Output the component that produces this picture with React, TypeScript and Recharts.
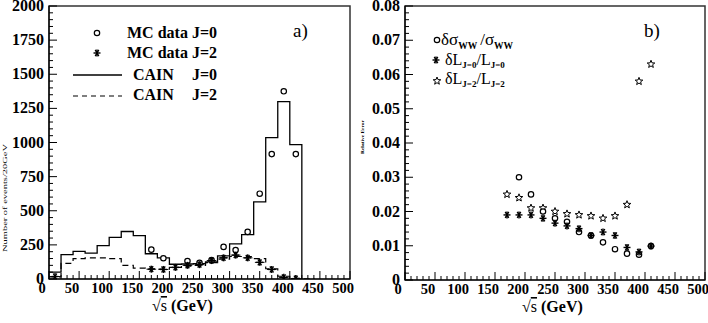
import React from 'react';
import { ComposedChart, Line, Scatter, XAxis, YAxis, ReferenceArea, ErrorBar } from 'recharts';

// ---------- Panel a) : histograms ----------
const binLowJ0 = [0, 20, 40, 60, 80, 100, 120, 140, 160, 180, 200, 220, 240, 260, 280, 300, 320, 340, 360, 380, 400];
const cainJ0 = [50, 178, 203, 190, 245, 305, 348, 318, 185, 155, 108, 110, 112, 125, 170, 258, 325, 565, 1035, 1300, 985];
const binLowJ2 = [0, 20, 40, 60, 80, 100, 120, 140, 160, 180, 200, 220, 240, 260, 280, 300, 320, 340, 360, 380, 400, 420];
const cainJ2 = [15, 115, 150, 155, 155, 150, 100, 80, 75, 72, 85, 95, 100, 120, 145, 165, 165, 150, 75, 20, 5, 2];
const binWidth = 20;

const mcJ0X = [170, 190, 230, 250, 270, 290, 310, 330, 350, 370, 390, 410];
const mcJ0Y = [215, 152, 132, 118, 138, 235, 212, 345, 625, 915, 1375, 915];
const mcJ2X = [10, 170, 190, 210, 230, 250, 270, 290, 310, 330, 350, 370, 390, 410];
const mcJ2Y = [18, 72, 70, 85, 100, 105, 135, 155, 175, 155, 122, 70, 12, 3];
const mcJ2ErrX = 8;

// ---------- Panel b) : relative errors ----------
const energyR = [170, 190, 210, 230, 250, 270, 290, 310, 330, 350, 370, 390, 410];
const relSigma = [null, 0.030, 0.025, 0.020, 0.018, 0.017, 0.014, 0.013, 0.011, 0.009, 0.0077, 0.0074, 0.0099];
const relLJ0 = [0.019, 0.019, 0.019, 0.018, 0.0166, 0.0158, 0.015, 0.013, 0.014, 0.013, 0.0095, 0.0082, 0.0099];
const relLJ2 = [0.025, 0.024, 0.021, 0.021, 0.020, 0.0193, 0.019, 0.0187, 0.018, 0.0187, 0.022, 0.058, 0.063];

// ---------- ticks ----------
const xTicks = Array.from({ length: 51 }, (_, i) => i * 10);
const yTicksL = Array.from({ length: 41 }, (_, i) => i * 50);
const yTicksR = Array.from({ length: 41 }, (_, i) => Math.round(i * 2) / 1000);

const FONT = '"Liberation Serif", "Times New Roman", serif';

const stepData = (lows: number[], vals: number[]) => {
  const d = lows.map((x, i) => ({ x, y: vals[i] }));
  d.push({ x: lows[lows.length - 1] + binWidth, y: 0 });
  return d;
};
const histJ0 = stepData(binLowJ0, cainJ0);
const histJ2 = stepData(binLowJ2, cainJ2);
const mcJ0 = mcJ0X.map((x, i) => ({ x, y: mcJ0Y[i] }));
const mcJ2 = mcJ2X.map((x, i) => ({ x, y: mcJ2Y[i], ex: mcJ2ErrX }));

const rSigma = energyR.map((x, i) => ({ x, y: relSigma[i] })).filter((d) => d.y !== null);
const rJ0 = energyR.map((x, i) => ({ x, y: relLJ0[i] }));
const rJ2 = energyR.map((x, i) => ({ x, y: relLJ2[i] }));

// ---------- marker shapes ----------
const OpenCircle = (p: any) => (
  <circle cx={p.cx} cy={p.cy} r={2.7} fill="#fff" stroke="#000" strokeWidth={1.2} />
);
const Asterisk = (p: any) => {
  const r = 3.5;
  const { cx, cy } = p;
  return (
    <g stroke="#000" strokeWidth={1.4}>
      <line x1={cx - r} y1={cy} x2={cx + r} y2={cy} />
      <line x1={cx - r * 0.5} y1={cy - r * 0.87} x2={cx + r * 0.5} y2={cy + r * 0.87} />
      <line x1={cx - r * 0.5} y1={cy + r * 0.87} x2={cx + r * 0.5} y2={cy - r * 0.87} />
      <line x1={cx} y1={cy - r} x2={cx} y2={cy + r} />
    </g>
  );
};
const OpenStar = (p: any) => {
  const { cx, cy } = p;
  const pts: string[] = [];
  for (let k = 0; k < 10; k++) {
    const r = k % 2 === 0 ? 4 : 1.7;
    const a = -Math.PI / 2 + (k * Math.PI) / 5;
    pts.push(`${cx + r * Math.cos(a)},${cy + r * Math.sin(a)}`);
  }
  return <polygon points={pts.join(' ')} fill="#fff" stroke="#000" strokeWidth={1} />;
};

// ---------- tick renderers ----------
const XTick = (p: any) => {
  const { x, y, payload } = p;
  const v = payload.value;
  const major = Math.round(v) % 50 === 0;
  return (
    <g>
      <line x1={x} x2={x} y1={y} y2={y - (major ? 8 : 4)} stroke="#000" strokeWidth={1} />
      {major && (
        <text x={x - 7} y={y + 14} textAnchor="middle" fontFamily={FONT} fontWeight="bold" fontSize={14.5} fill="#000">
          {v}
        </text>
      )}
    </g>
  );
};
const YTickL = (p: any) => {
  const { x, y, payload } = p;
  const v = payload.value;
  const major = Math.round(v) % 250 === 0;
  return (
    <g>
      <line x1={x} x2={x + (major ? 8 : 4)} y1={y} y2={y} stroke="#000" strokeWidth={1} />
      {major && (
        <text x={x - 5} y={y + 5} textAnchor="end" fontFamily={FONT} fontWeight="bold" fontSize={16} fill="#000">
          {v}
        </text>
      )}
    </g>
  );
};
const YTickR = (p: any) => {
  const { x, y, payload } = p;
  const v = payload.value;
  const major = Math.abs(v * 100 - Math.round(v * 100)) < 1e-6;
  return (
    <g>
      <line x1={x} x2={x + (major ? 8 : 4)} y1={y} y2={y} stroke="#000" strokeWidth={1} />
      {major && (
        <text x={x - 5} y={y + 5} textAnchor="end" fontFamily={FONT} fontWeight="bold" fontSize={16} fill="#000">
          {v === 0 ? '0' : v.toFixed(2)}
        </text>
      )}
    </g>
  );
};

const LeftPanel = () => (
  <ComposedChart width={360} height={323} margin={{ top: 6, right: 10, bottom: 14, left: 4 }}>
    <XAxis type="number" dataKey="x" domain={[0, 500]} ticks={xTicks} interval={0} tick={<XTick />}
      tickLine={false} axisLine={{ stroke: '#000', strokeWidth: 1.2 }} height={30} tickSize={0} tickMargin={0} allowDataOverflow />
    <YAxis type="number" dataKey="y" domain={[0, 2000]} ticks={yTicksL} interval={0} tick={<YTickL />}
      tickLine={false} axisLine={{ stroke: '#000', strokeWidth: 1.2 }} width={45} tickSize={0} tickMargin={0} allowDataOverflow />
    <ReferenceArea x1={0} x2={500} y1={0} y2={2000} fill="none" stroke="#333" strokeWidth={1.5} ifOverflow="visible" />
    <Line data={histJ0} dataKey="y" type="stepAfter" stroke="#000" strokeWidth={1.3} dot={false} isAnimationActive={false} />
    <Line data={histJ2} dataKey="y" type="stepAfter" stroke="#000" strokeWidth={1.2} strokeDasharray="6 4" dot={false} isAnimationActive={false} />
    <Scatter data={mcJ0} dataKey="y" shape={OpenCircle} isAnimationActive={false} />
    <Scatter data={mcJ2} dataKey="y" shape={Asterisk} isAnimationActive={false}>
      <ErrorBar dataKey="ex" direction="x" width={0} stroke="#000" strokeWidth={1} />
    </Scatter>
  </ComposedChart>
);

const RightPanel = () => (
  <ComposedChart width={353} height={323} margin={{ top: 6, right: 3, bottom: 13, left: 5 }}>
    <XAxis type="number" dataKey="x" domain={[0, 500]} ticks={xTicks} interval={0} tick={<XTick />}
      tickLine={false} axisLine={{ stroke: '#000', strokeWidth: 1.2 }} height={30} tickSize={0} tickMargin={0} allowDataOverflow />
    <YAxis type="number" dataKey="y" domain={[0, 0.08]} ticks={yTicksR} interval={0} tick={<YTickR />}
      tickLine={false} axisLine={{ stroke: '#000', strokeWidth: 1.2 }} width={45} tickSize={0} tickMargin={0} allowDataOverflow />
    <ReferenceArea x1={0} x2={500} y1={0} y2={0.08} fill="none" stroke="#333" strokeWidth={1.5} ifOverflow="visible" />
    <Scatter data={rJ2} dataKey="y" shape={OpenStar} isAnimationActive={false} />
    <Scatter data={rSigma} dataKey="y" shape={OpenCircle} isAnimationActive={false} />
    <Scatter data={rJ0} dataKey="y" shape={Asterisk} isAnimationActive={false} />
  </ComposedChart>
);

const Overlay = () => (
  <svg width={708} height={323} style={{ position: 'absolute', left: 0, top: 0, pointerEvents: 'none' }}>
    <g fontFamily={FONT} fill="#000">
      {/* left legend */}
      <OpenCircle cx={97} cy={33} />
      <Asterisk cx={97} cy={53} />
      <line x1={73} x2={122} y1={75} y2={75} stroke="#000" strokeWidth={1.3} />
      <line x1={73} x2={122} y1={96} y2={96} stroke="#000" strokeWidth={1.2} strokeDasharray="5 4" />
      <text x={127} y={38} fontSize={16} fontWeight="bold">MC data J=0</text>
      <text x={127} y={58} fontSize={16} fontWeight="bold">MC data J=2</text>
      <text x={133} y={80} fontSize={16} fontWeight="bold">CAIN</text>
      <text x={192} y={80} fontSize={16} fontWeight="bold">J=0</text>
      <text x={133} y={100} fontSize={16} fontWeight="bold">CAIN</text>
      <text x={192} y={100} fontSize={16} fontWeight="bold">J=2</text>
      <text x={293} y={37} fontSize={19}>a)</text>
      <text x={644} y={37} fontSize={19}>b)</text>

      {/* axis titles */}
      <text transform="translate(7,198) rotate(-90)" textAnchor="middle" fontSize={7} textLength={108} lengthAdjust="spacingAndGlyphs">
        Number of events/20GeV
      </text>
      <text transform="translate(364,137) rotate(-90)" textAnchor="middle" fontSize={5} fontWeight="bold" textLength={34} lengthAdjust="spacingAndGlyphs">
        Relative Error
      </text>
      <text x={152} y={311} fontSize={16} fontWeight="bold">
        √<tspan fontWeight="normal" style={{ textDecoration: 'overline' }}>s</tspan> (GeV)
      </text>
      <text x={522} y={312} fontSize={16} fontWeight="bold">
        √<tspan fontWeight="normal" style={{ textDecoration: 'overline' }}>s</tspan>   (GeV)
      </text>

      {/* right legend */}
      <OpenCircle cx={437} cy={40} />
      <text x={441} y={45} fontSize={17}>
        δσ<tspan fontSize={9.5} fontWeight="bold" dy={4}>WW</tspan>
        <tspan dy={-4} dx={3}>/σ</tspan>
        <tspan fontSize={9.5} fontWeight="bold" dy={4}>WW</tspan>
      </text>
      <Asterisk cx={436} cy={60} />
      <text x={445} y={65} fontSize={16}>
        δL<tspan fontSize={9} fontWeight="bold" dy={3}>J=0</tspan>
        <tspan dy={-3}>/L</tspan>
        <tspan fontSize={9} fontWeight="bold" dy={3}>J=0</tspan>
      </text>
      <OpenStar cx={437} cy={81} />
      <text x={445} y={84} fontSize={16}>
        δL<tspan fontSize={9} fontWeight="bold" dy={3}>J=2</tspan>
        <tspan dy={-3}>/L</tspan>
        <tspan fontSize={9} fontWeight="bold" dy={3}>J=2</tspan>
      </text>
    </g>
  </svg>
);

export default function App() {
  return (
    <div style={{ position: 'absolute', left: 0, top: 0, width: 708, height: 323, background: '#fff', overflow: 'hidden' }}>
      <div style={{ position: 'absolute', left: 0, top: 0 }}>
        <LeftPanel />
      </div>
      <div style={{ position: 'absolute', left: 355, top: 0 }}>
        <RightPanel />
      </div>
      <Overlay />
    </div>
  );
}
